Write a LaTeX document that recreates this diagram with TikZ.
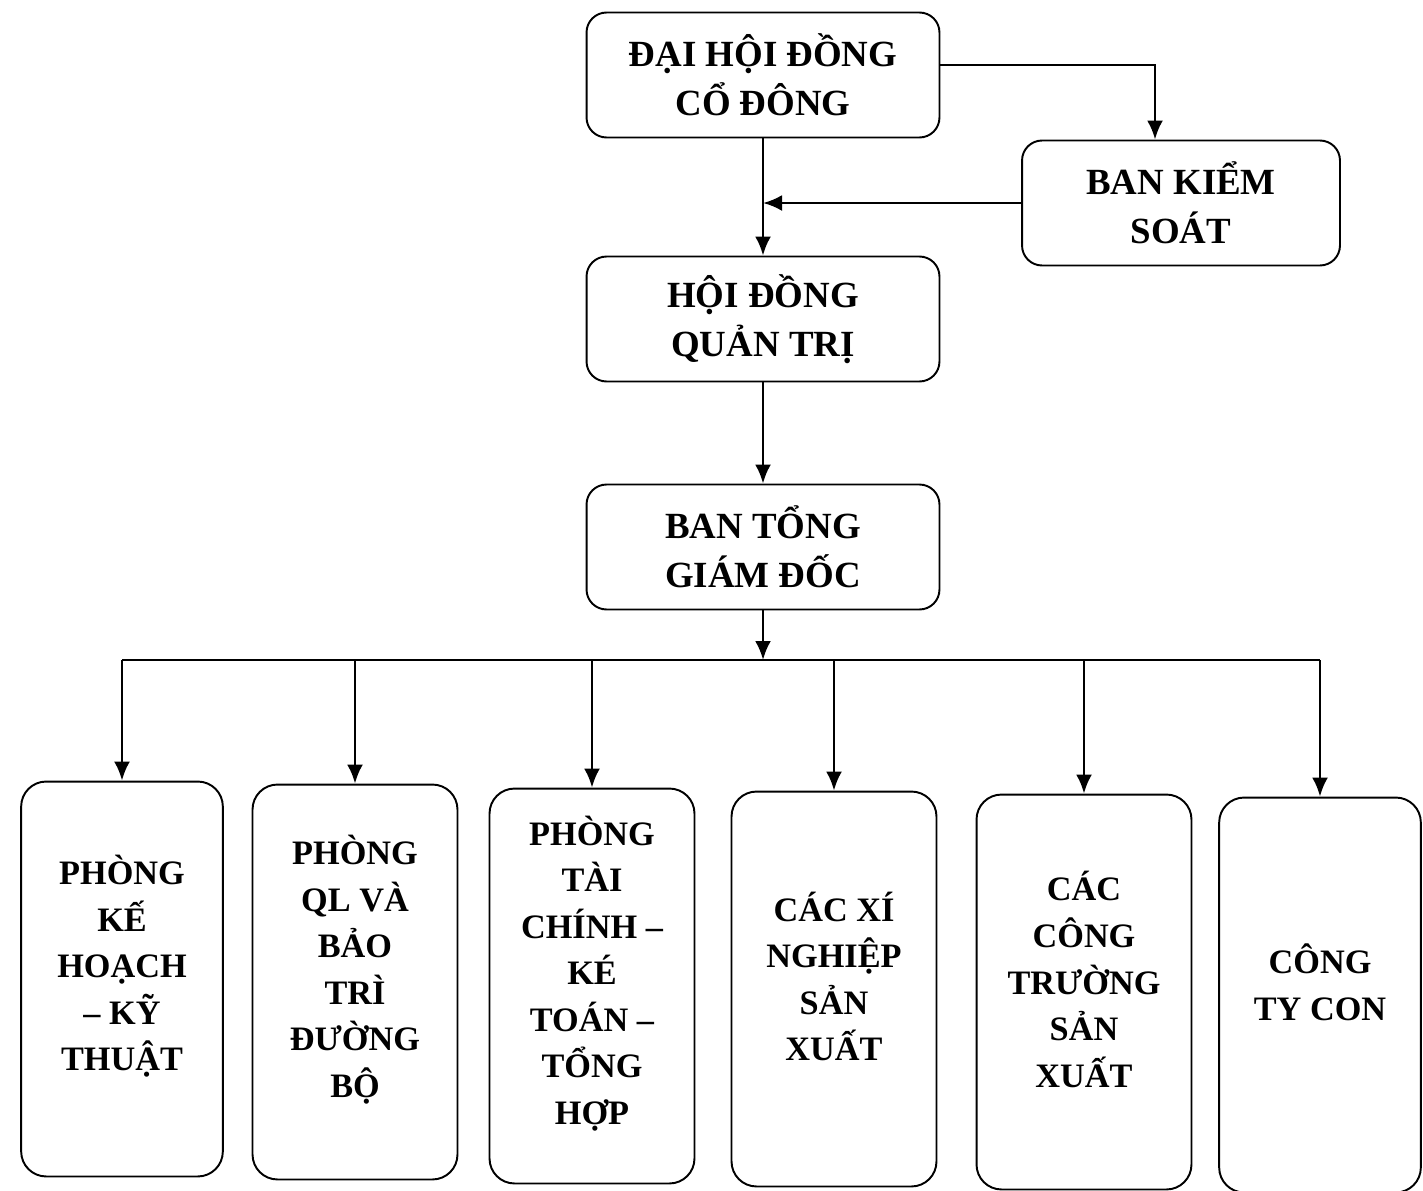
\documentclass[tikz,border=0pt]{standalone}
\usepackage{fontspec}
\setmainfont{Liberation Serif}
\usetikzlibrary{arrows.meta}
\tikzset{
  headbox/.style={draw, line width=1.1pt, rounded corners=0.4cm, align=center,
    minimum width=7.06cm, minimum height=2.5cm, font=\bfseries\fontsize{21}{28}\selectfont},
  unitbox/.style={draw, line width=1.1pt, rounded corners=0.5cm, align=flush center, text width=3.8cm,
    minimum width=4.1cm, minimum height=7.9cm, font=\bfseries\fontsize{19.5}{26.5}\selectfont,
    execute at end node={\par\vspace*{0.5cm}}},
  link/.style={line width=1.6pt, -{Latex[length=0.38cm,width=0.32cm]}},
}

\begin{document}
\begin{tikzpicture}[x=0.02cm,y=-0.02cm]
            \useasboundingbox (0,0) rectangle (1423,1190);
            % upper levels
            \node[headbox] (dhcd) at (763,75) {ĐẠI HỘI ĐỒNG\\CỔ ĐÔNG};
            \node[headbox, minimum width=6.36cm] (bks) at (1181,203) {BAN KIỂM\\SOÁT};
            \node[headbox] (hdqt) at (763,319) {HỘI ĐỒNG\\QUẢN TRỊ};
            \node[headbox] (btgd) at (763,547) {BAN TỔNG\\GIÁM ĐỐC};
            % departments
            \node[unitbox, minimum width=4cm] (unit1) at (122,979) {PHÒNG\\KẾ\\HOẠCH\\– KỸ\\THUẬT};
            \node[unitbox] (unit2) at (355,982) {PHÒNG\\QL VÀ\\BẢO\\TRÌ\\ĐƯỜNG\\BỘ};
            \node[unitbox] (unit3) at (592,986) {PHÒNG\\TÀI\\CHÍNH –\\KÉ\\TOÁN –\\TỔNG\\HỢP};
            \node[unitbox] (unit4) at (834,989) {CÁC XÍ\\NGHIỆP\\SẢN\\XUẤT};
            \node[unitbox, minimum width=4.3cm] (unit5) at (1084,992) {CÁC\\CÔNG\\TRƯỜNG\\SẢN\\XUẤT};
            \node[unitbox, minimum width=4cm] (unit6) at (1320,995) {CÔNG\\TY CON};
            % connectors
            \draw[link] ([yshift=0.2cm]dhcd.east) -| ([xshift=-0.52cm]bks.north);
            \draw[link] (dhcd) -- (hdqt);
            \coordinate (join) at (bks.west -| dhcd.south);
            \draw[link] (bks.west) -- (join);
            \draw[link] (hdqt) -- (btgd);
            \coordinate (bus) at (763,660);
            \draw[link] (btgd) -- (bus);
            \draw[line width=1.6pt] (unit1.north |- bus) -- (unit6.north |- bus);
            \foreach \i in {1,...,6} {
                \draw[link] (unit\i.north |- bus) -- (unit\i.north);
            }
\end{tikzpicture}
\end{document}
